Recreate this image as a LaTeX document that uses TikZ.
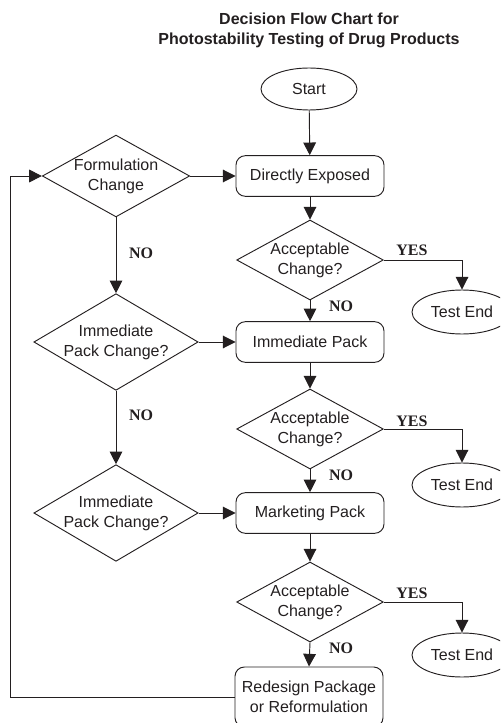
\documentclass[tikz,border=0pt]{standalone}
\usepackage{fontspec}
\setmainfont{Liberation Sans}
\newfontfamily\serifb{Liberation Serif}
\usetikzlibrary{shapes.geometric,arrows.meta}
\definecolor{ink}{RGB}{35,31,32}
\begin{document}
\begin{tikzpicture}[x=0.75pt,y=-0.75pt,
  font=\fontsize{12}{15}\selectfont,
  every node/.style={text=ink},
  line/.style={draw=ink, line width=0.7pt},
  arr/.style={line, -{Triangle[length=9.5pt,width=9.5pt]}},
  proc/.style={draw=ink, line width=0.7pt, rounded corners=7pt, minimum width=111pt, minimum height=30.5pt, align=center, inner sep=0pt},
  dec/.style={draw=ink, diamond, shape aspect=1.8, line width=0.7pt, align=center, inner sep=0pt, minimum width=110pt, minimum height=60pt},
  bigdec/.style={dec, shape aspect=1.7, minimum width=120pt, minimum height=71pt},
  term/.style={ellipse, draw=ink, line width=0.7pt, minimum width=72pt, minimum height=31.5pt, inner sep=0pt},
  endterm/.style={term, minimum width=75pt, minimum height=33pt},
  yn/.style={font=\serifb\bfseries\fontsize{12}{14}\selectfont}]
\useasboundingbox (0,0) rectangle (500,723);
\clip (0,0) rectangle (500,723);

\node[font=\bfseries\fontsize{12}{15}\selectfont, align=center] (title) at (309,30)
  {Decision Flow Chart for\\Photostability Testing of Drug Products};

\node[term] (start) at (309,89) {Start};
\node[proc] (de) at (310,176) {Directly Exposed};
\node[dec] (fc) at (116,176) {Formulation\\Change};
\node[dec] (ac1) at (310,260) {Acceptable\\Change?};
\node[endterm] (te1) at (462,312) {Test End};
\node[proc] (ip) at (310,342) {Immediate Pack};
\node[bigdec] (ipc1) at (116,342) {Immediate\\Pack Change?};
\node[dec] (ac2) at (310,429) {Acceptable\\Change?};
\node[endterm] (te2) at (462,485) {Test End};
\node[proc] (mp) at (310,513) {Marketing Pack};
\node[bigdec] (ipc2) at (116,513) {Immediate\\Pack Change?};
\node[dec] (ac3) at (310,602) {Acceptable\\Change?};
\node[endterm] (te3) at (462,655) {Test End};
\node[proc, minimum height=45pt] (rr) at (309,697) {Redesign Package\\or Reformulation};
\coordinate (lp) at (10,0);

\draw[arr] (start) -- (de);
\draw[arr] (de) -- (ac1);
\draw[arr] (ac1.east) -| (te1.north);
\draw[arr] (ac1.south) -- (ip.north);
\draw[arr] (ip) -- (ac2);
\draw[arr] (ac2.east) -| (te2.north);
\draw[arr] (ac2.south) -- (mp.north);
\draw[arr] (mp) -- (ac3);
\draw[arr] (ac3.east) -| (te3.north);
\draw[arr] (ac3.south) -- (rr.north);
\draw[arr] (fc.east) -- (de.west);
\draw[arr] (fc.south) -- (ipc1.north);
\draw[arr] (ipc1.east) -- (ip.west);
\draw[arr] (ipc1.south) -- (ipc2.north);
\draw[arr] (ipc2.east) -- (mp.west);
\draw[arr] (rr.west) -- (rr.west -| lp) |- (fc.west);

\node[yn] (y1) at (412,250) {YES};
\node[yn] (y2) at (412,421) {YES};
\node[yn] (y3) at (412,593) {YES};
\node[yn] (n1) at (341,306) {NO};
\node[yn] (n2) at (341,475) {NO};
\node[yn] (n3) at (341,648) {NO};
\node[yn] (n4) at (141,253) {NO};
\node[yn] (n5) at (141,415) {NO};
\end{tikzpicture}
\end{document}
